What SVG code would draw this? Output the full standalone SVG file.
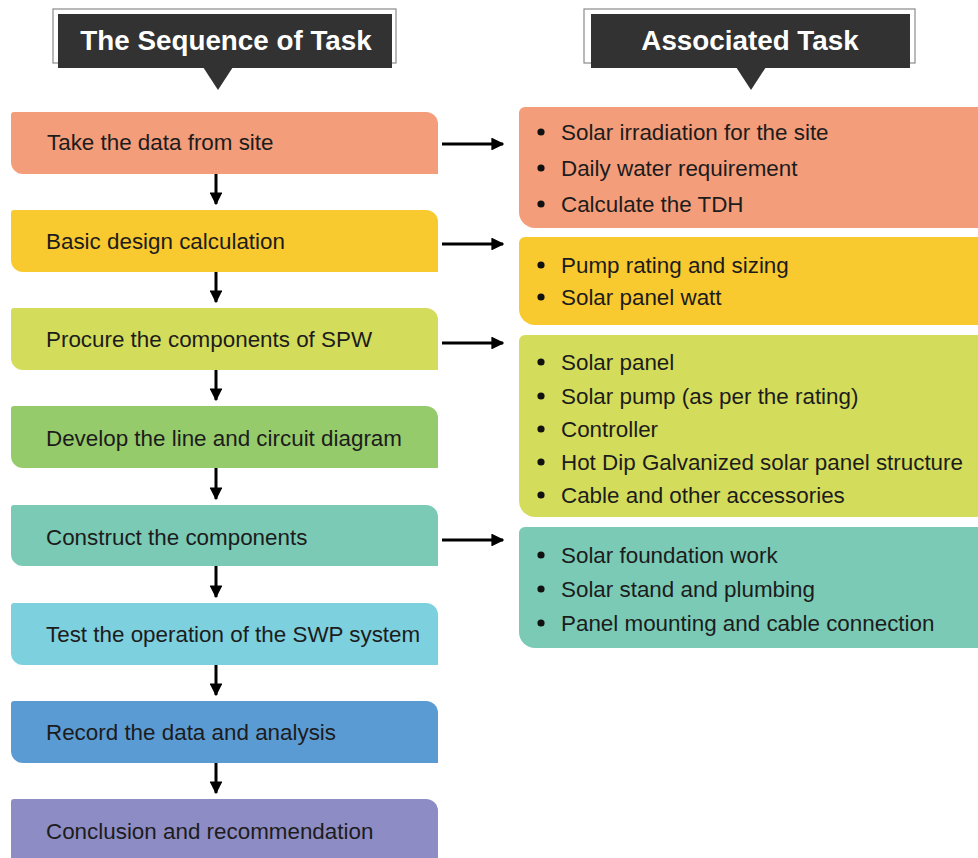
<svg xmlns="http://www.w3.org/2000/svg" width="978" height="858" viewBox="0 0 978 858">
<style>
.hdr-frame{fill:#fff;stroke:#8a8a8a;stroke-width:1.2}
.hdr-box{fill:#323232}
.hdr-text{font-family:"Liberation Sans",Arial,sans-serif;font-weight:bold;font-size:27.8px;fill:#fff;text-anchor:middle}
.lbl{font-family:"Liberation Sans",Arial,sans-serif;font-size:22.4px;fill:#1c1c1c}
.blt{fill:#111}
.conn{stroke:#000;stroke-width:3;fill:none}
</style>
<defs>
<marker id="ah" viewBox="0 0 10 10" refX="9" refY="5" markerWidth="4.3" markerHeight="4.3" orient="auto" markerUnits="strokeWidth">
<path d="M0,0 L10,5 L0,10 Z" fill="#000"/>
</marker>
</defs>
<rect width="978" height="858" fill="#fff"/>

<g id="header-sequence">
<rect class="hdr-frame" x="53" y="9" width="343" height="54"/>
<rect class="hdr-box" x="58" y="14" width="334" height="54"/>
<path class="hdr-box" d="M203,67 L233,67 L218,90 Z"/>
<text class="hdr-text" x="226" y="50">The Sequence of Task</text>
</g>

<g id="header-associated">
<rect class="hdr-frame" x="584" y="9" width="331" height="54"/>
<rect class="hdr-box" x="591" y="14" width="319" height="54"/>
<path class="hdr-box" d="M736,67 L766,67 L751,90 Z"/>
<text class="hdr-text" x="750" y="50">Associated Task</text>
</g>

<g id="step1">
<path d="M14,112 H426 A12,12 0 0 1 438,124 V174 H23 A12,12 0 0 1 11,162 V115 A3,3 0 0 1 14,112 Z" fill="#F49D7A"/>
<text class="lbl" x="47" y="150">Take the data from site</text>
</g>
<g id="step2">
<path d="M14,210 H426 A12,12 0 0 1 438,222 V272 H23 A12,12 0 0 1 11,260 V213 A3,3 0 0 1 14,210 Z" fill="#F9C930"/>
<text class="lbl" x="46" y="249">Basic design calculation</text>
</g>
<g id="step3">
<path d="M14,308 H426 A12,12 0 0 1 438,320 V370 H23 A12,12 0 0 1 11,358 V311 A3,3 0 0 1 14,308 Z" fill="#D4DC5B"/>
<text class="lbl" x="46" y="347">Procure the components of SPW</text>
</g>
<g id="step4">
<path d="M14,406 H426 A12,12 0 0 1 438,418 V468 H23 A12,12 0 0 1 11,456 V409 A3,3 0 0 1 14,406 Z" fill="#96CB6B"/>
<text class="lbl" x="46" y="446">Develop the line and circuit diagram</text>
</g>
<g id="step5">
<path d="M14,505 H426 A12,12 0 0 1 438,517 V566 H23 A12,12 0 0 1 11,554 V508 A3,3 0 0 1 14,505 Z" fill="#7ACAB6"/>
<text class="lbl" x="46" y="545">Construct the components</text>
</g>
<g id="step6">
<path d="M14,603 H426 A12,12 0 0 1 438,615 V665 H23 A12,12 0 0 1 11,653 V606 A3,3 0 0 1 14,603 Z" fill="#7DD0DD"/>
<text class="lbl" x="46" y="642">Test the operation of the SWP system</text>
</g>
<g id="step7">
<path d="M14,701 H426 A12,12 0 0 1 438,713 V763 H23 A12,12 0 0 1 11,751 V704 A3,3 0 0 1 14,701 Z" fill="#5B9BD3"/>
<text class="lbl" x="46" y="740">Record the data and analysis</text>
</g>
<g id="step8">
<path d="M14,799 H426 A12,12 0 0 1 438,811 V858 H11 V802 A3,3 0 0 1 14,799 Z" fill="#8E8CC5"/>
<text class="lbl" x="46" y="839">Conclusion and recommendation</text>
</g>

<g id="task1">
<path d="M525,107 H980 V228 H535 A16,16 0 0 1 519,212 V113 A6,6 0 0 1 525,107 Z" fill="#F49D7A"/>
<circle class="blt" cx="541" cy="132" r="3.6"/><text class="lbl" x="561" y="140">Solar irradiation for the site</text>
<circle class="blt" cx="541" cy="168" r="3.6"/><text class="lbl" x="561" y="176">Daily water requirement</text>
<circle class="blt" cx="541" cy="204" r="3.6"/><text class="lbl" x="561" y="212">Calculate the TDH</text>
</g>
<g id="task2">
<path d="M525,237 H980 V325 H535 A16,16 0 0 1 519,309 V243 A6,6 0 0 1 525,237 Z" fill="#F9C930"/>
<circle class="blt" cx="541" cy="265" r="3.6"/><text class="lbl" x="561" y="273">Pump rating and sizing</text>
<circle class="blt" cx="541" cy="297" r="3.6"/><text class="lbl" x="561" y="305">Solar panel watt</text>
</g>
<g id="task3">
<path d="M525,335 H980 V517 H535 A16,16 0 0 1 519,501 V341 A6,6 0 0 1 525,335 Z" fill="#D4DC5B"/>
<circle class="blt" cx="541" cy="362" r="3.6"/><text class="lbl" x="561" y="370">Solar panel</text>
<circle class="blt" cx="541" cy="396" r="3.6"/><text class="lbl" x="561" y="404">Solar pump (as per the rating)</text>
<circle class="blt" cx="541" cy="429" r="3.6"/><text class="lbl" x="561" y="437">Controller</text>
<circle class="blt" cx="541" cy="462" r="3.6"/><text class="lbl" x="561" y="470">Hot Dip Galvanized solar panel structure</text>
<circle class="blt" cx="541" cy="495" r="3.6"/><text class="lbl" x="561" y="503">Cable and other accessories</text>
</g>
<g id="task4">
<path d="M525,527 H980 V648 H535 A16,16 0 0 1 519,632 V533 A6,6 0 0 1 525,527 Z" fill="#7ACAB6"/>
<circle class="blt" cx="541" cy="555" r="3.6"/><text class="lbl" x="561" y="563">Solar foundation work</text>
<circle class="blt" cx="541" cy="589" r="3.6"/><text class="lbl" x="561" y="597">Solar stand and plumbing</text>
<circle class="blt" cx="541" cy="623" r="3.6"/><text class="lbl" x="561" y="631">Panel mounting and cable connection</text>
</g>

<g id="connectors">
<line class="conn" x1="216" y1="174" x2="216" y2="204" marker-end="url(#ah)"/>
<line class="conn" x1="216" y1="272" x2="216" y2="302" marker-end="url(#ah)"/>
<line class="conn" x1="216" y1="370" x2="216" y2="400" marker-end="url(#ah)"/>
<line class="conn" x1="216" y1="468" x2="216" y2="499" marker-end="url(#ah)"/>
<line class="conn" x1="216" y1="566" x2="216" y2="597" marker-end="url(#ah)"/>
<line class="conn" x1="216" y1="665" x2="216" y2="695" marker-end="url(#ah)"/>
<line class="conn" x1="216" y1="763" x2="216" y2="793" marker-end="url(#ah)"/>
<line class="conn" x1="442" y1="144" x2="503" y2="144" marker-end="url(#ah)"/>
<line class="conn" x1="442" y1="244" x2="503" y2="244" marker-end="url(#ah)"/>
<line class="conn" x1="442" y1="343" x2="503" y2="343" marker-end="url(#ah)"/>
<line class="conn" x1="442" y1="540" x2="503" y2="540" marker-end="url(#ah)"/>
</g>
</svg>
